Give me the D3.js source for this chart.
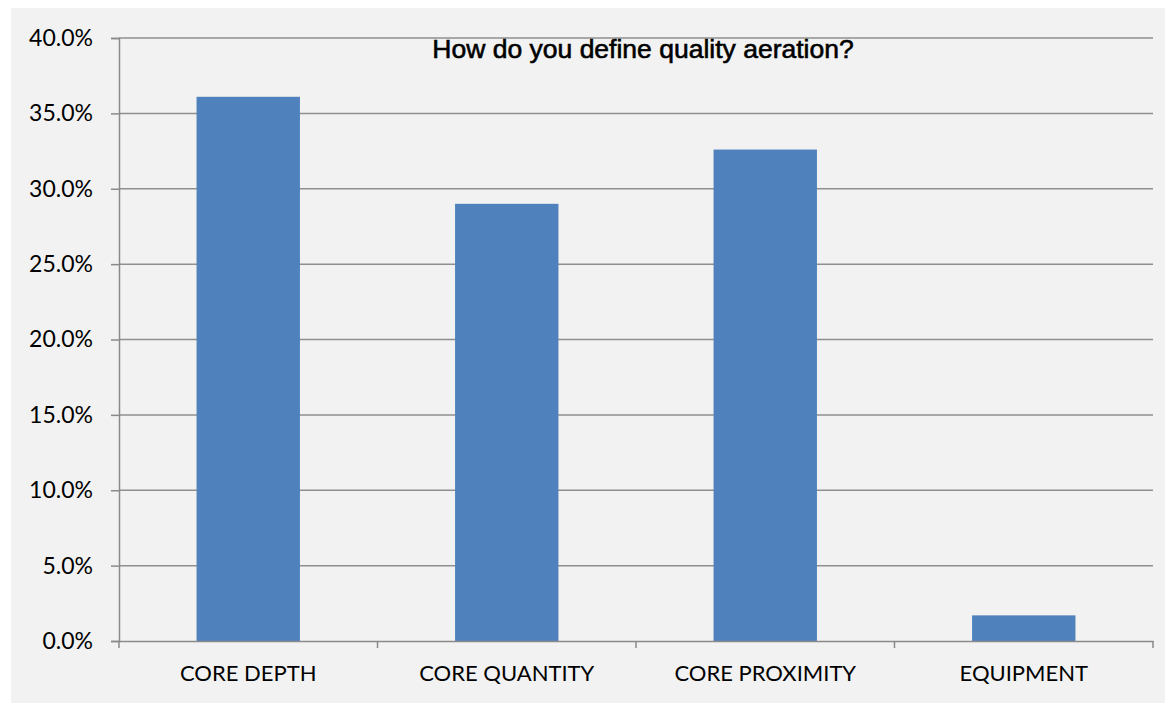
<!DOCTYPE html>
<html><head><meta charset="utf-8">
<script src="https://cdn.jsdelivr.net/npm/d3@7"></script>
<style>body{margin:0;background:#fff;}svg{display:block;}</style>
</head><body>
<svg id="c" width="1165" height="709"></svg>
<script>
const categories = ["CORE DEPTH", "CORE QUANTITY", "CORE PROXIMITY", "EQUIPMENT"];
const values = [0.361, 0.290, 0.326, 0.017];
const yTicks = [0, 0.05, 0.10, 0.15, 0.20, 0.25, 0.30, 0.35, 0.40];
const title = "How do you define quality aeration?";

(function () {
const svg = d3.select("#c");
svg.append("rect").attr("x", 11).attr("y", 8).attr("width", 1154).attr("height", 695).attr("fill", "#f2f2f2");

const pLeft = 119, pRight = 1153, pTop = 38, pBottom = 641;
const x = d3.scaleBand().domain(categories).range([pLeft, pRight]).padding(0);
const y = d3.scaleLinear().domain([0, 0.4]).range([pBottom, pTop]);

// gridlines
svg.append("g").selectAll("line").data(yTicks.slice(1)).join("line")
  .attr("x1", pLeft).attr("x2", pRight)
  .attr("y1", d => y(d)).attr("y2", d => y(d))
  .attr("stroke", "#8f8f8f").attr("stroke-width", 1.5);

// bars
const bw = x.bandwidth() * 0.4;
svg.append("g").selectAll("rect").data(values).join("rect")
  .attr("x", (d, i) => x(categories[i]) + (x.bandwidth() - bw) / 2)
  .attr("width", bw)
  .attr("y", d => y(d))
  .attr("height", d => y(0) - y(d))
  .attr("fill", "#4f81bd");

// y axis
const yAxis = svg.append("g").attr("transform", `translate(${pLeft},0)`)
  .call(d3.axisLeft(y).tickValues(yTicks).tickFormat(d3.format(".1%")).tickSize(8).tickPadding(18));
yAxis.select(".domain").attr("stroke", "#8a8a8a").attr("stroke-width", 1.5);
yAxis.selectAll(".tick line").attr("stroke", "#8a8a8a").attr("stroke-width", 1.5);
yAxis.selectAll("text").attr("font-family", "Lato, 'Open Sans', sans-serif").attr("font-size", 23).attr("fill", "#000");

// x axis
const xAxis = svg.append("g").attr("transform", `translate(0,${pBottom})`)
  .call(d3.axisBottom(x).tickSize(0).tickPadding(24));
xAxis.select(".domain").attr("stroke", "#8a8a8a").attr("stroke-width", 1.5);
xAxis.selectAll(".tick line").remove();
xAxis.selectAll("text").attr("font-family", "Lato, 'Open Sans', sans-serif").attr("font-size", 22).attr("fill", "#000");
// category boundary tick marks
svg.append("g").selectAll("line").data(d3.range(categories.length + 1)).join("line")
  .attr("x1", i => pLeft + i * x.step()).attr("x2", i => pLeft + i * x.step())
  .attr("y1", pBottom).attr("y2", pBottom + 7)
  .attr("stroke", "#8a8a8a").attr("stroke-width", 1.5);

svg.append("text").attr("x", 643).attr("y", 58).attr("text-anchor", "middle")
  .attr("font-family", "'Liberation Sans', Arial, sans-serif").attr("font-size", 26.5)
  .attr("fill", "#000").attr("stroke", "#000").attr("stroke-width", 0.6).text(title);
})();
</script>
</body></html>
